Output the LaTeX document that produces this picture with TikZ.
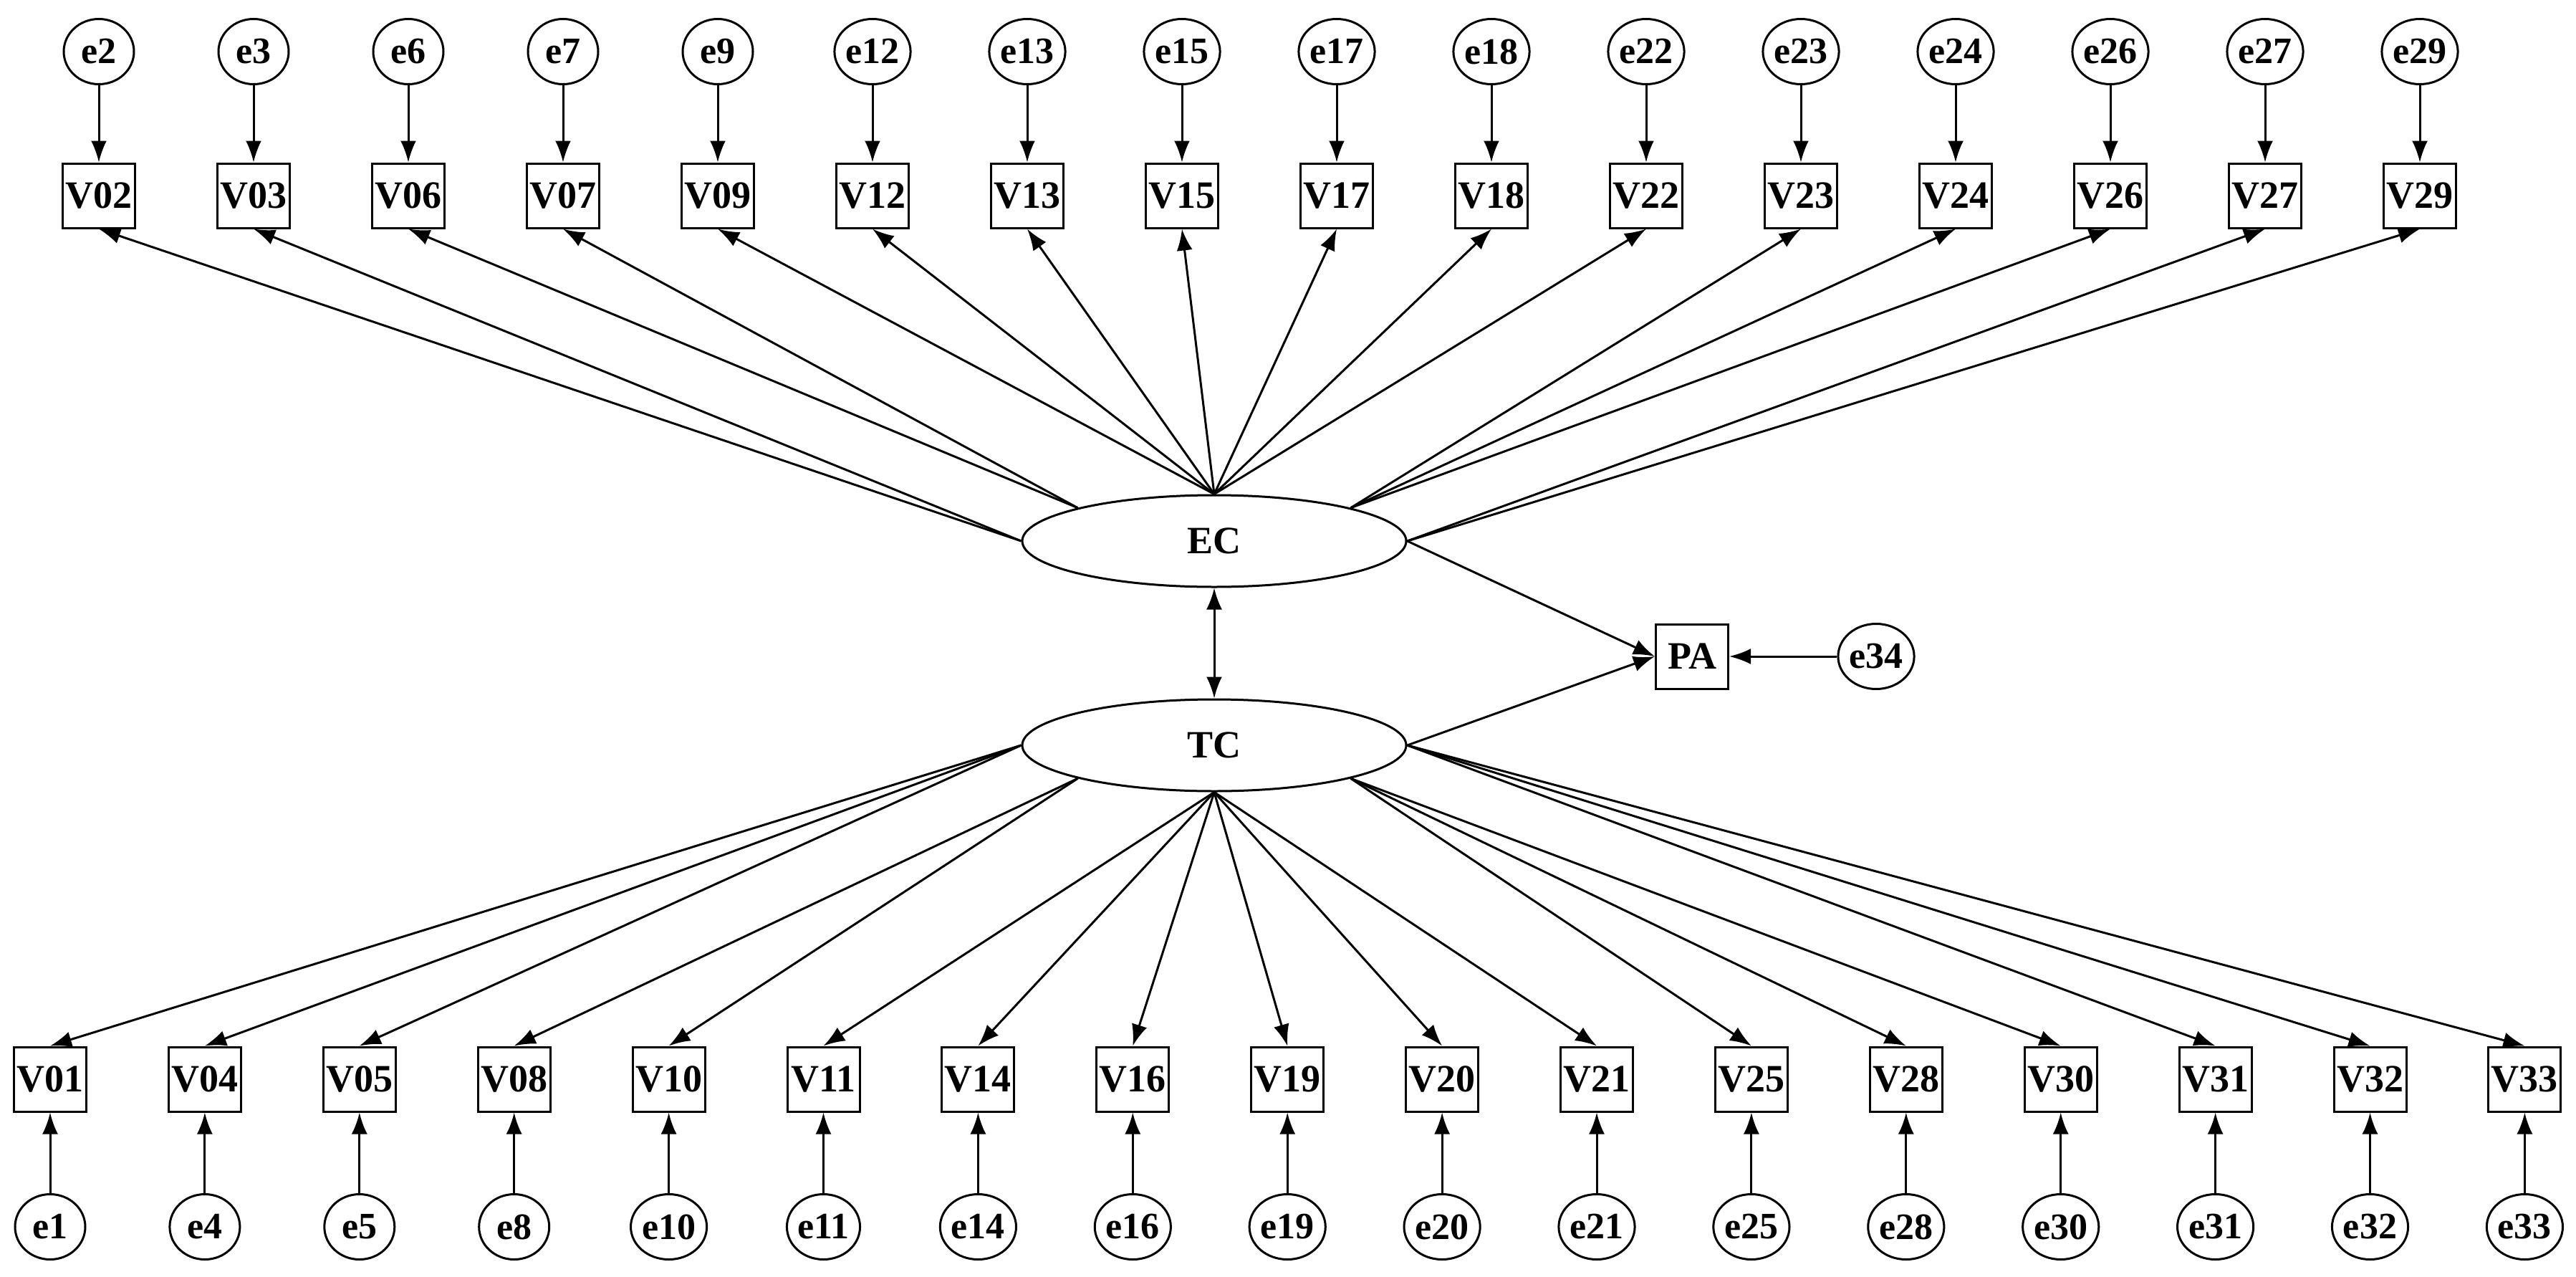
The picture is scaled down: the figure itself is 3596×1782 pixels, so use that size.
\documentclass[tikz,border=0pt]{standalone}
\usepackage{fontspec}
\setmainfont{Liberation Serif}
\usetikzlibrary{shapes.geometric,arrows.meta}
\begin{document}
\begin{tikzpicture}[x=1pt,y=-1pt,
  lw/.style={line width=3pt},
  obs/.style={draw,lw,rectangle,minimum width=101pt,minimum height=90pt,inner sep=0pt,font=\fontsize{54}{60}\selectfont\bfseries},
  err/.style={draw,lw,ellipse,minimum width=98pt,minimum height=91pt,inner sep=0pt,font=\fontsize{52}{60}\selectfont\bfseries},
  lat/.style={draw,lw,ellipse,minimum width=536pt,minimum height=128pt,inner sep=0pt,font=\fontsize{54}{60}\selectfont\bfseries},
  arr/.style={lw,-{Latex[length=30pt,width=22pt]}},
  darr/.style={lw,{Latex[length=30pt,width=22pt]}-{Latex[length=30pt,width=22pt]}}]
\useasboundingbox (0,0) rectangle (3596,1782);
\node[lat] (EC) at (1695,755) {EC};
\node[lat] (TC) at (1695,1040) {TC};
\node[obs] (PA) at (2362,916) {PA};
\node[err] (e34) at (2619,916) {e34};
\draw[darr] (EC.south) -- (TC.north);
\draw[arr] (EC.east) -- (PA.west);
\draw[arr] (TC.east) -- (PA.west);
\draw[arr] (e34.west) -- (PA.east);
% top row
\foreach \v/\e/\a [count=\i from 0] in {02/2/west,03/3/west,06/6/north west,07/7/north west,09/9/north,12/12/north,13/13/north,15/15/north,17/17/north,18/18/north,22/22/north,23/23/north east,24/24/north east,26/26/north east,27/27/east,29/29/east}{
  \node[obs] (V\v) at ({138+216*\i},273) {V\v};
  \node[err] (e\e) at ({138+216*\i},72) {e\e};
  \draw[arr] (e\e.south) -- (V\v.north);
  \draw[arr] (EC.\a) -- (V\v.south);
}
% bottom row
\foreach \v/\e/\a [count=\i from 0] in {01/1/west,04/4/west,05/5/west,08/8/south west,10/10/south west,11/11/south,14/14/south,16/16/south,19/19/south,20/20/south,21/21/south,25/25/south east,28/28/south east,30/30/south east,31/31/east,32/32/east,33/33/east}{
  \node[obs] (V\v) at ({70+215.9*\i},1506) {V\v};
  \node[err] (e\e) at ({70+215.9*\i},1712) {e\e};
  \draw[arr] (e\e.north) -- (V\v.south);
  \draw[arr] (TC.\a) -- (V\v.north);
}
\end{tikzpicture}
\end{document}
